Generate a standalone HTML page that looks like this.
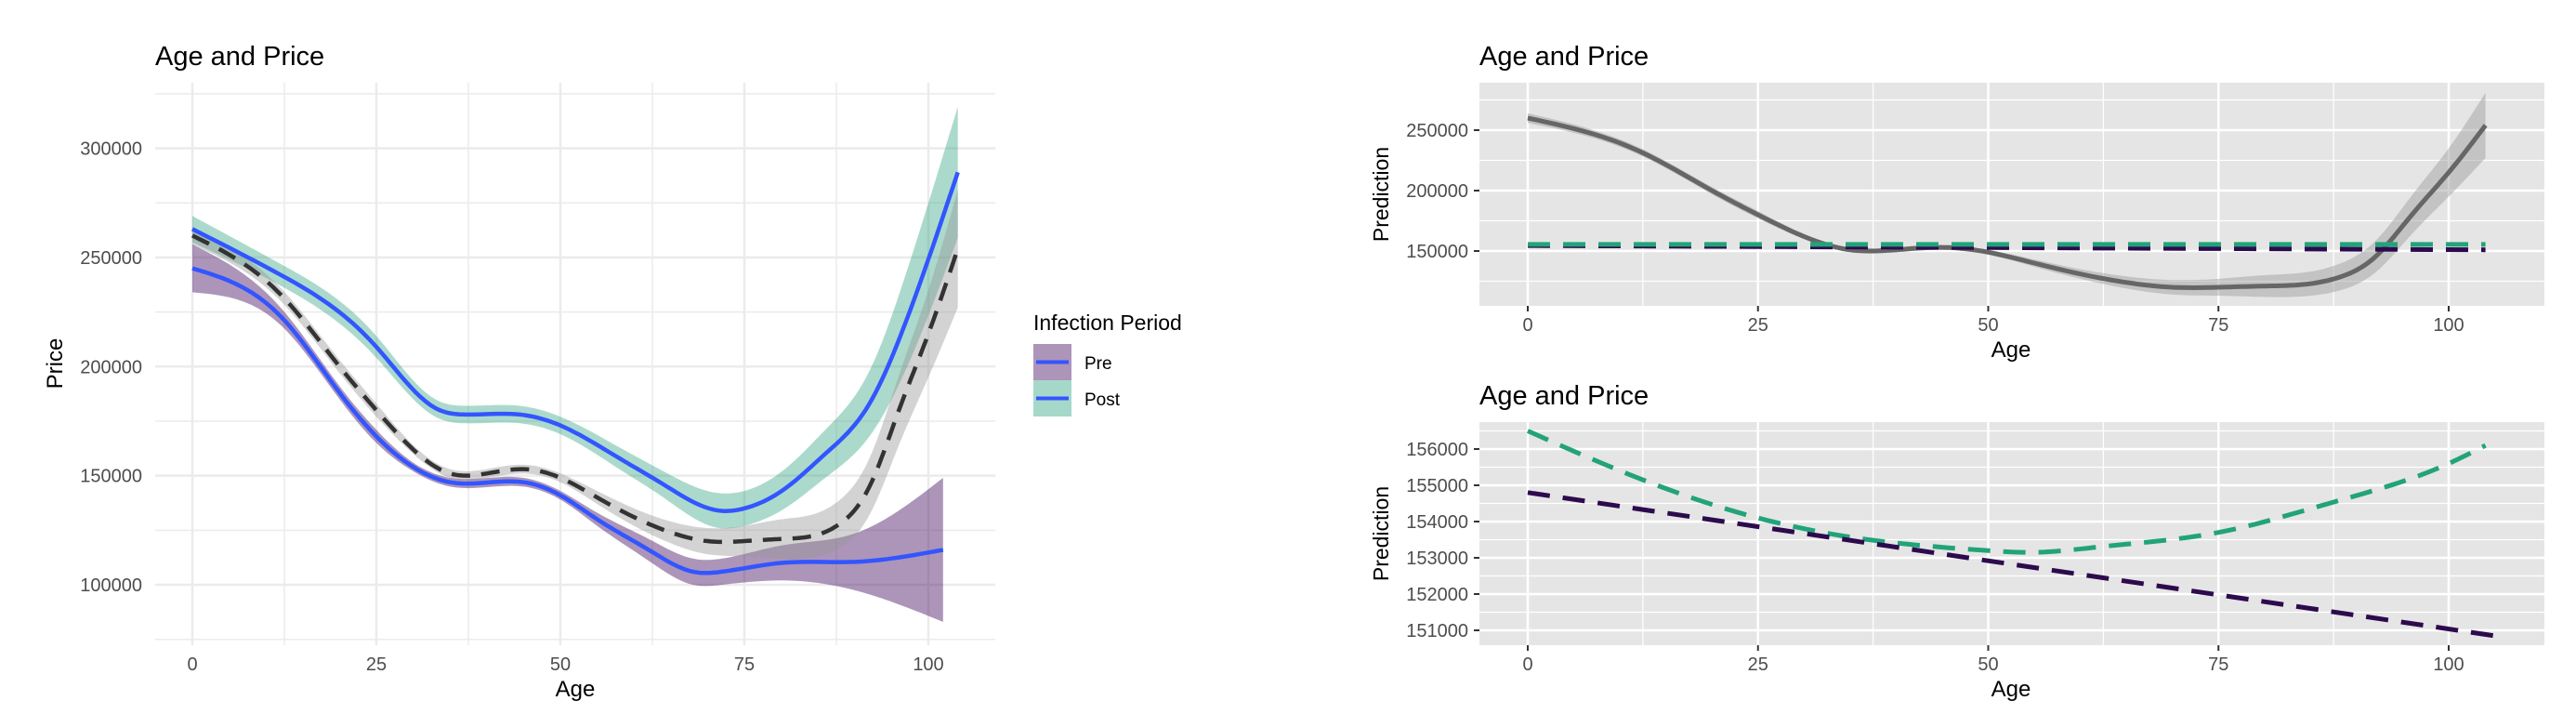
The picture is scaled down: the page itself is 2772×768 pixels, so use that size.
<!DOCTYPE html>
<html><head><meta charset="utf-8">
<style>
html,body{margin:0;padding:0;background:#fff;}
svg{display:block;font-family:"Liberation Sans",sans-serif;}
</style></head>
<body>
<svg id="chart" width="2772" height="768" viewBox="0 0 2772 768" xmlns="http://www.w3.org/2000/svg"></svg>
<script>
// ---- data ----
const postAges = [0,12,25,33,37,44.5,50,58,64,71.5,75,80.5,86,92,97,104];
const postVals = [263,242,209,181,178,178,173,158,146,134,135,144,160,183,221,289];
const postHalf = [6,5,5,4,4,4,4,5,6,8,8,9,11,15,22,30];
const preAges = [0,12,20,25,30,35,45,50,55,62,68,72,80,90,102];
const preVals = [245,223,188,168,154,147,147,141,130,116,106,106,110,110.5,116];
const preHalf = [11,4,3,3,2,2,2,2,3,5,6,6,8,13,33];
const allAges = [0,12,20,25,30,35,40,45,50,55,60,65,70,75,80,85,88,92,96,100,104];
const allVals = [260,233,200,180,162,151,151,153,149,140,131,124,120,120,121,123,128,145,180,215,254];
const allHalf = [4,3,3,3,2,2,2,2,2,3,4,5,6,7,9,10,11,13,16,20,27];
const flatAges = [0,104];
const flatGreen = [155.5,155.5];
const flatPurple = [154.5,151];
const botGreenAges = [0,12,25,37,50,55,62,75,87,100,104];
const botGreenVals = [156.5,155.2,154.1,153.5,153.2,153.15,153.3,153.7,154.5,155.6,156.1];
const botPurpleAges = [0,105];
const botPurpleVals = [154.8,150.85];
const xTicks = [0,25,50,75,100];
const leftYTicks = [100000,150000,200000,250000,300000];
const rtYTicks = [150000,200000,250000];
const rbYTicks = [151000,152000,153000,154000,155000,156000];

const NS="http://www.w3.org/2000/svg";
const svg=document.getElementById('chart');
function el(tag,attrs,parent){const e=document.createElementNS(NS,tag);for(const k in attrs)e.setAttribute(k,attrs[k]);(parent||svg).appendChild(e);return e;}
function txt(s,attrs,parent){const e=el('text',attrs,parent);e.textContent=s;return e;}
function lin(d0,d1,r0,r1){return v=>r0+(v-d0)*(r1-r0)/(d1-d0);}
// natural cubic spline y(x), sampled
function spline(xs,ys){
  const n=xs.length;
  if(n<3){return [[xs[0],ys[0]],[xs[n-1],ys[n-1]]];}
  const h=[],al=[],l=[1],mu=[0],z=[0],c=new Array(n).fill(0),b=[],d=[];
  for(let i=0;i<n-1;i++)h.push(xs[i+1]-xs[i]);
  for(let i=1;i<n-1;i++)al[i]=3/h[i]*(ys[i+1]-ys[i])-3/h[i-1]*(ys[i]-ys[i-1]);
  for(let i=1;i<n-1;i++){l[i]=2*(xs[i+1]-xs[i-1])-h[i-1]*mu[i-1];mu[i]=h[i]/l[i];z[i]=(al[i]-h[i-1]*z[i-1])/l[i];}
  for(let j=n-2;j>=0;j--){c[j]=(j>0?z[j]:0)-mu[j]*c[j+1];b[j]=(ys[j+1]-ys[j])/h[j]-h[j]*(c[j+1]+2*c[j])/3;d[j]=(c[j+1]-c[j])/(3*h[j]);}
  const out=[];
  for(let i=0;i<n-1;i++){for(let k=0;k<12;k++){const t=h[i]*k/12;out.push([xs[i]+t,ys[i]+b[i]*t+c[i]*t*t+d[i]*t*t*t]);}}
  out.push([xs[n-1],ys[n-1]]);return out;
}
function pathOf(pts){return 'M'+pts.map(p=>p[0].toFixed(1)+','+p[1].toFixed(1)).join('L');}
function proj(pts,sx,sy,mul){return pts.map(p=>[sx(p[0]),sy(p[1]*mul)]);}
function line(ages,vals,sx,sy,mul,attrs,name){
  const p=el('path',Object.assign({d:pathOf(proj(spline(ages,vals),sx,sy,mul)),fill:'none'},attrs));
  
  
}
function band(ages,vals,half,sx,sy,mul,fill,name){
  const up=proj(spline(ages,vals.map((v,i)=>v+half[i])),sx,sy,mul);
  const lo=proj(spline(ages,vals.map((v,i)=>v-half[i])),sx,sy,mul).reverse();
  const p=el('path',{d:pathOf(up.concat(lo))+'Z',fill:fill,stroke:'none'});
  
  
}

// ---- LEFT chart (theme_minimal) ----
{
  const sx=lin(0,100,207,999), sy=lin(100000,300000,629,159.5);
  const L=167,R=1071,T=89,B=694;
  txt('Age and Price',{x:167,y:70,'font-size':29,fill:'#000',});
  const g=el('g',{});
  for(let v=75000;v<=325000;v+=25000){const y=sy(v);el('line',{x1:L,x2:R,y1:y,y2:y,stroke:'#ebebeb','stroke-width':v%50000?1.5:2.5},g);}
  for(let a=0;a<=100;a+=12.5){const x=sx(a);el('line',{x1:x,x2:x,y1:T,y2:B,stroke:'#ebebeb','stroke-width':a%25?1.5:2.5},g);}
  leftYTicks.forEach(v=>txt(String(v),{x:153,y:sy(v)+7,'text-anchor':'end','font-size':20,fill:'#4d4d4d',}));
  xTicks.forEach(a=>txt(String(a),{x:sx(a),y:721,'text-anchor':'middle','font-size':20,fill:'#4d4d4d',}));
  txt('Age',{x:619,y:749,'text-anchor':'middle','font-size':24,fill:'#000',});
  txt('Price',{x:0,y:0,transform:'translate(67,391) rotate(-90)','text-anchor':'middle','font-size':24,fill:'#000',});
  band(postAges,postVals,postHalf,sx,sy,1000,'rgba(33,158,120,0.38)','post-band');
  band(preAges,preVals,preHalf,sx,sy,1000,'rgba(72,20,100,0.45)','pre-band');
  band(allAges,allVals,allHalf,sx,sy,1000,'rgba(150,150,150,0.42)','overall-band');
  line(postAges,postVals,sx,sy,1000,{stroke:'#3355ff','stroke-width':4.5},'post-line');
  line(preAges,preVals,sx,sy,1000,{stroke:'#3355ff','stroke-width':4.5},'pre-line');
  line(allAges,allVals,sx,sy,1000,{stroke:'#333','stroke-width':4.5,'stroke-dasharray':'20,12'},'overall-dashed-line');
  // legend
  const lg=el('g',{});
  txt('Infection Period',{x:1112,y:355,'font-size':23,fill:'#000',},lg);
  el('rect',{x:1112,y:370,width:41,height:39,fill:'rgba(72,20,100,0.45)',},lg);
  el('line',{x1:1115,x2:1150,y1:389.5,y2:389.5,stroke:'#3355ff','stroke-width':4},lg);
  el('rect',{x:1112,y:409,width:41,height:39,fill:'rgba(33,158,120,0.4)',},lg);
  el('line',{x1:1115,x2:1150,y1:428.5,y2:428.5,stroke:'#3355ff','stroke-width':4},lg);
  txt('Pre',{x:1167,y:397,'font-size':19,fill:'#000',},lg);
  txt('Post',{x:1167,y:436,'font-size':19,fill:'#000',},lg);
}

// ---- RIGHT panels (theme_gray) ----
function grayPanel(T,B,yTicks,sy,pre,titleY){
  const L=1592,R=2738;const sx=lin(0,100,1644,2635);
  txt('Age and Price',{x:1592,y:titleY,'font-size':29,fill:'#000',});
  el('rect',{x:L,y:T,width:R-L,height:B-T,fill:'#e5e5e5',});
  const g=el('g',{});
  const step=yTicks[1]-yTicks[0];
  for(let v=yTicks[0]-step;v<=yTicks[yTicks.length-1]+step;v+=step/2){const y=sy(v);if(y<T||y>B)continue;el('line',{x1:L,x2:R,y1:y,y2:y,stroke:'#fff','stroke-width':yTicks.includes(v)?2.5:1.2},g);}
  for(let a=-12.5;a<=112.5;a+=12.5){const x=sx(a);if(x<L||x>R)continue;el('line',{x1:x,x2:x,y1:T,y2:B,stroke:'#fff','stroke-width':a%25?1.2:2.5},g);}
  yTicks.forEach(v=>{txt(String(v),{x:1580,y:sy(v)+7,'text-anchor':'end','font-size':20,fill:'#4d4d4d',});
    el('line',{x1:1586,x2:1592,y1:sy(v),y2:sy(v),stroke:'#333','stroke-width':2});});
  xTicks.forEach(a=>{txt(String(a),{x:sx(a),y:B+27,'text-anchor':'middle','font-size':20,fill:'#4d4d4d',});
    el('line',{x1:sx(a),x2:sx(a),y1:B,y2:B+6,stroke:'#333','stroke-width':2});});
  txt('Age',{x:2164,y:B+55,'text-anchor':'middle','font-size':24,fill:'#000',});
  txt('Prediction',{x:0,y:0,transform:'translate(1494,'+((T+B)/2)+') rotate(-90)','text-anchor':'middle','font-size':23,fill:'#000',});
  return sx;
}
{
  const sy=lin(150000,250000,270,140);
  const sx=grayPanel(89,329,rtYTicks,sy,'top-right',70);
  band(allAges,allVals,allHalf,sx,sy,1000,'rgba(153,153,153,0.45)','top-right-band');
  line(allAges,allVals,sx,sy,1000,{stroke:'#666','stroke-width':5},'top-right-smooth-line');
  line(flatAges,flatPurple,sx,sy,1000,{stroke:'#2d0a4d','stroke-width':5,'stroke-dasharray':'24,14'},'top-right-purple-dashed');
  line(flatAges,flatGreen,sx,sy,1000,{stroke:'#22a37a','stroke-width':5,'stroke-dasharray':'24,14'},'top-right-green-dashed');
}
{
  const sy=lin(151000,156000,678,483);
  const sx=grayPanel(454,694,rbYTicks,sy,'bottom-right',435);
  line(botGreenAges,botGreenVals,sx,sy,1000,{stroke:'#22a37a','stroke-width':5,'stroke-dasharray':'24,14'},'bottom-right-green-dashed');
  line(botPurpleAges,botPurpleVals,sx,sy,1000,{stroke:'#2d0a4d','stroke-width':5,'stroke-dasharray':'24,14'},'bottom-right-purple-dashed');
}
</script>
</body></html>
